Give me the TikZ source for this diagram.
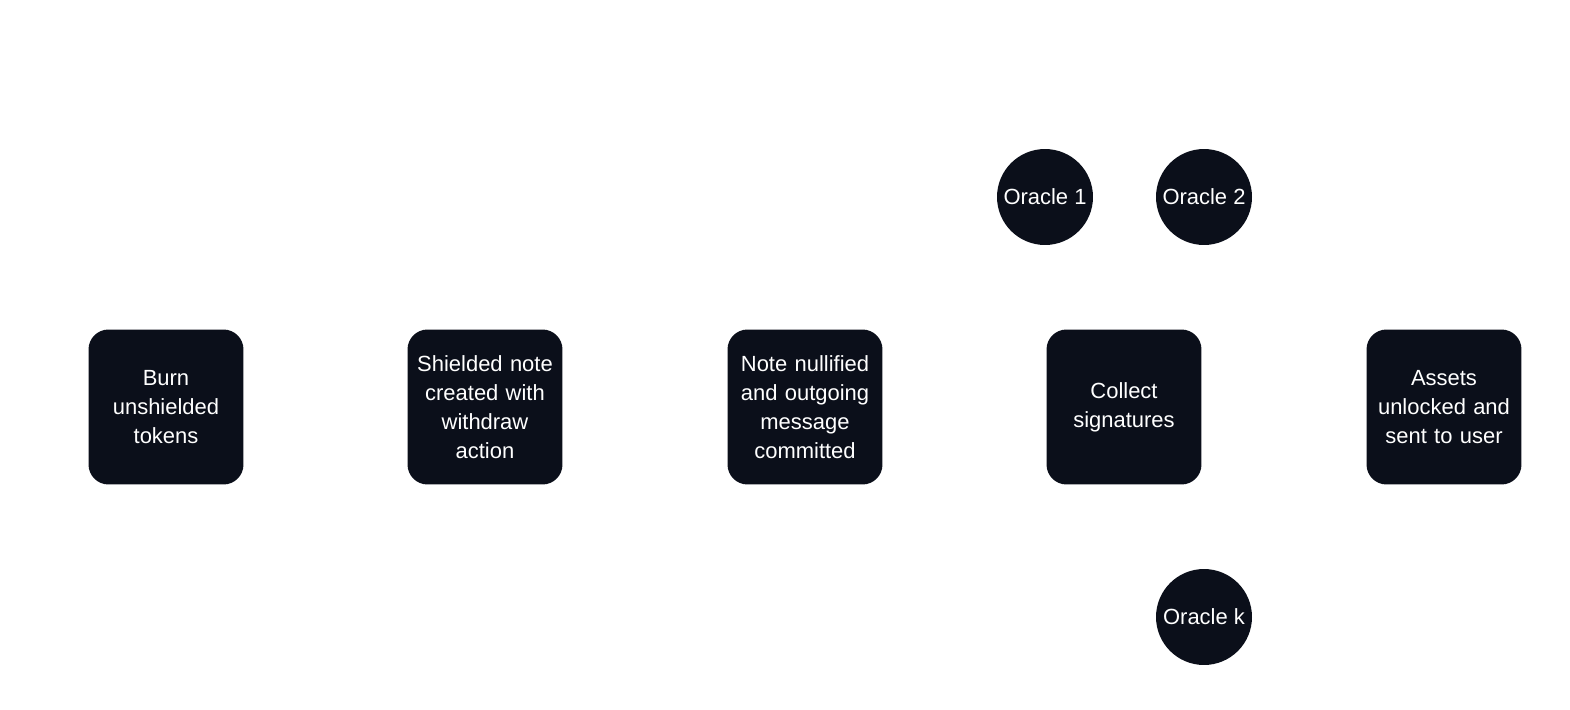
\documentclass[tikz,border=0pt]{standalone}
\usepackage{fontspec}
\setmainfont{Liberation Sans}
\definecolor{nodebg}{HTML}{0B0F1A}
\begin{document}
\begin{tikzpicture}[x=0.02cm,y=-0.02cm,
  box/.style={fill=nodebg,draw=none,rounded corners=0.4cm,minimum width=3.1cm,minimum height=3.1cm,text width=3.0cm,align=center,text=white,inner sep=0pt,font=\fontsize{12.5}{16.4}\selectfont},
  orc/.style={circle,fill=nodebg,draw=none,minimum size=1.92cm,inner sep=0pt,text=white,font=\fontsize{12.5}{16.4}\selectfont}]
\useasboundingbox (0,0) rectangle (1570,710);
\node[box] (b1) at (166,407) {Burn\\unshielded\\tokens};
\node[box] (b2) at (485,407) {Shielded note\\created with\\withdraw\\action};
\node[box] (b3) at (805,407) {Note nullified\\and outgoing\\message\\committed};
\node[box] (b4) at (1124,407) {Collect\\signatures};
\node[box] (b5) at (1444,407) {Assets\\unlocked and\\sent to user};
\node[orc] (o1) at (1045,197) {Oracle 1};
\node[orc] (o2) at (1204,197) {Oracle 2};
\node[orc] (ok) at (1204,617) {Oracle k};
\end{tikzpicture}
\end{document}
